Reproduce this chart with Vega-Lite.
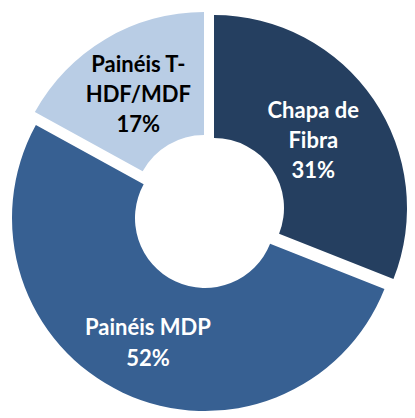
{
  "$schema": "https://vega.github.io/schema/vega-lite/v6.json",
  "width": 415,
  "height": 418,
  "autosize": {"type": "fit", "contains": "padding"},
  "padding": 0,
  "background": "white",
  "view": {"stroke": null},
  "data": {
    "values": [
      {"categoria": "Chapa de Fibra", "rotulo": "Chapa de\nFibra\n31%", "valor": 31, "ordem": 1},
      {"categoria": "Painéis MDP", "rotulo": "Painéis MDP\n52%", "valor": 52, "ordem": 2},
      {"categoria": "Painéis T-HDF/MDF", "rotulo": "Painéis T-\nHDF/MDF\n17%", "valor": 17, "ordem": 3}
    ]
  },
  "layer": [
    {
      "transform": [
        {"stack": "valor", "groupby": [], "sort": [{"field": "ordem", "order": "ascending"}], "as": ["v0", "v1"]},
        {"filter": "datum.categoria === 'Chapa de Fibra'"}
      ],
      "mark": {"type": "arc", "outerRadius": 193, "innerRadius": 70, "xOffset": 6.5, "yOffset": -1, "color": "#253F60"},
      "encoding": {
        "theta": {"field": "v0", "type": "quantitative", "scale": {"domain": [0, 100]}},
        "theta2": {"field": "v1"}
      }
    },
    {
      "transform": [
        {"stack": "valor", "groupby": [], "sort": [{"field": "ordem", "order": "ascending"}], "as": ["v0", "v1"]},
        {"filter": "datum.categoria === 'Painéis MDP'"}
      ],
      "mark": {"type": "arc", "outerRadius": 193, "innerRadius": 70, "xOffset": -2.5, "yOffset": 9, "color": "#376092"},
      "encoding": {
        "theta": {"field": "v0", "type": "quantitative", "scale": {"domain": [0, 100]}},
        "theta2": {"field": "v1"}
      }
    },
    {
      "transform": [
        {"stack": "valor", "groupby": [], "sort": [{"field": "ordem", "order": "ascending"}], "as": ["v0", "v1"]},
        {"filter": "datum.categoria === 'Painéis T-HDF/MDF'"}
      ],
      "mark": {"type": "arc", "outerRadius": 193, "innerRadius": 70, "xOffset": -3.5, "yOffset": -4, "color": "#B9CDE5"},
      "encoding": {
        "theta": {"field": "v0", "type": "quantitative", "scale": {"domain": [0, 100]}},
        "theta2": {"field": "v1"}
      }
    },
    {
      "mark": {"type": "text", "radius": 120, "xOffset": 6.5, "yOffset": -1, "dy": -30, "font": "Lato", "fontWeight": "bold", "fontSize": 22, "lineHeight": 30, "lineBreak": "\n", "align": "center", "baseline": "middle", "color": "white"},
      "encoding": {
        "theta": {"field": "valor", "type": "quantitative", "stack": true},
        "order": {"field": "ordem"},
        "text": {"condition": {"test": "datum.categoria === 'Chapa de Fibra'", "field": "rotulo"}, "value": ""}
      }
    },
    {
      "mark": {"type": "text", "radius": 134, "xOffset": -2.5, "yOffset": 9, "dy": -11, "font": "Lato", "fontWeight": "bold", "fontSize": 22, "lineHeight": 31, "lineBreak": "\n", "align": "center", "baseline": "middle", "color": "white"},
      "encoding": {
        "theta": {"field": "valor", "type": "quantitative", "stack": true},
        "order": {"field": "ordem"},
        "text": {"condition": {"test": "datum.categoria === 'Painéis MDP'", "field": "rotulo"}, "value": ""}
      }
    },
    {
      "mark": {"type": "text", "radius": 129, "xOffset": -3.5, "yOffset": -4, "dy": -29, "font": "Lato", "fontWeight": "bold", "fontSize": 22, "lineHeight": 30, "lineBreak": "\n", "align": "center", "baseline": "middle", "color": "black"},
      "encoding": {
        "theta": {"field": "valor", "type": "quantitative", "stack": true},
        "order": {"field": "ordem"},
        "text": {"condition": {"test": "datum.categoria === 'Painéis T-HDF/MDF'", "field": "rotulo"}, "value": ""}
      }
    }
  ]
}
